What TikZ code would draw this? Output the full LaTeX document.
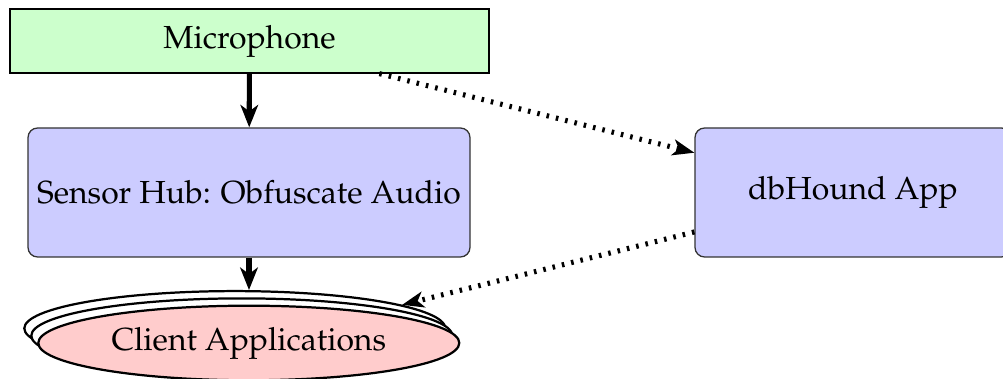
\documentclass[tikz,border=0pt]{standalone}
\usepackage[T1]{fontenc}
\usepackage{mathpazo}
\usetikzlibrary{arrows.meta,shapes.geometric}

% one drawing unit
\def\pu{0.3133pt}

\tikzset{
  micbox/.style={rectangle, draw=black, line width=0.4pt, fill=green!20,
    minimum width=479*\pu, minimum height=64*\pu, inner sep=0pt},
  hubbox/.style={rectangle, draw=black!80, line width=0.4pt, fill=blue!20,
    rounded corners=3pt, minimum height=129*\pu, inner sep=0pt},
  appstack/.style={ellipse, draw=black, line width=0.7pt, fill=white,
    minimum width=421*\pu, minimum height=74.6*\pu, inner sep=0pt},
  solidarrow/.style={line width=1.6pt, -{Stealth[length=7pt,width=5.5pt,inset=2pt]}},
  dotarrow/.style={line width=1.6pt, dash pattern=on 0.8pt off 2.2pt,
    -{Stealth[length=6.8pt,width=5pt,inset=1.8pt,sep=0pt]}},
}

\begin{document}
\begin{tikzpicture}[x=\pu, y=-\pu]
\useasboundingbox (0,0) rectangle (1003,379);

\node[micbox] (mic) at (249.5,41) {Microphone};
\node[hubbox, minimum width=442*\pu] (hub) at (249,192.5) {Sensor Hub: Obfuscate Audio};
\node[hubbox, minimum width=316*\pu] (dbhound) at (853,192.5) {dbHound App};

% stacked ellipses for the client applications
\node[appstack] (clientback) at (234.8,328.4) {};
\node[appstack] (clientmid) at (241.8,335.7) {};
\node[appstack, fill=red!20] (client) at (248.8,343) {Client Applications};

\draw[solidarrow] (mic) -- (hub);
\draw[solidarrow] (hub.south) -- (hub.south |- clientback.north);
\draw[dotarrow] (mic) -- (dbhound);
\draw[dotarrow] (dbhound) -- (clientback.8);
\end{tikzpicture}
\end{document}
